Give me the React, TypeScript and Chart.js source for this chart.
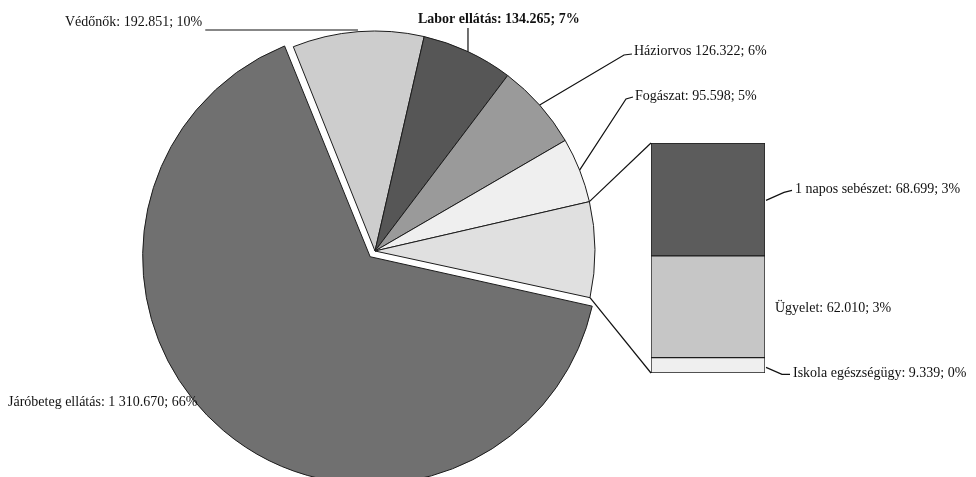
import React, { useEffect, useRef } from "react";
import { Chart, registerables } from "chart.js";

Chart.register(...registerables);

const W = 976;
const H = 477;

// ---- data ----
const barLabels = ["1 napos sebészet", "Ügyelet", "Iskola egészségügy"];
const barValues = [68699, 62010, 9339];
const otherTotal = barValues.reduce((a, b) => a + b, 0);

const pieLabels = ["Védőnők", "Labor ellátás", "Háziorvos", "Fogászat", "Egyéb", "Járóbeteg ellátás"];
const pieValues = [192851, 134265, 126322, 95598, otherTotal, 1310670];
const grandTotal = pieValues.reduce((a, b) => a + b, 0);

// ---- styles ----
const pieColors = ["#cdcdcd", "#565656", "#9a9a9a", "#efefef", "#e0e0e0", "#707070"];
const pieOffsets = [0, 0, 0, 0, 0, 30];
const barColors = ["#5c5c5c", "#c6c6c6", "#efefef"];
const FONT = "14px 'Liberation Serif', 'DejaVu Serif', serif";
const FONT_BOLD = "bold 14px 'Liberation Serif', 'DejaVu Serif', serif";

function fmt(n: number): string {
  const s = String(n);
  const last = s.slice(-3);
  const rest = s.slice(0, -3);
  if (!rest) return last;
  if (rest.length > 3) return rest.slice(0, -3) + " " + rest.slice(-3) + "." + last;
  return rest + "." + last;
}
function labelText(name: string, v: number, sep = ": "): string {
  return name + sep + fmt(v) + "; " + Math.round((v / grandTotal) * 100) + "%";
}

function arcPoint(arc: any, angle: number, extra = 0) {
  const off = (arc.options.offset || 0) / 4;
  const circ = arc.endAngle - arc.startAngle;
  const fix = 1 - Math.sin(Math.min(Math.PI, circ));
  const t = off + off * fix;
  const half = (arc.startAngle + arc.endAngle) / 2;
  const cx = arc.x + Math.cos(half) * t;
  const cy = arc.y + Math.sin(half) * t;
  const r = arc.outerRadius + extra;
  return { x: cx + Math.cos(angle) * r, y: cy + Math.sin(angle) * r };
}

export default function App() {
  const pieRef = useRef<HTMLCanvasElement>(null);
  const barRef = useRef<HTMLCanvasElement>(null);

  useEffect(() => {
    const line = (ctx: CanvasRenderingContext2D, pts: number[][]) => {
      ctx.beginPath();
      ctx.moveTo(pts[0][0], pts[0][1]);
      for (let i = 1; i < pts.length; i++) ctx.lineTo(pts[i][0], pts[i][1]);
      ctx.stroke();
    };

    const pieLabelPlugin = {
      id: "pieLabels",
      afterDraw(chart: any) {
        const ctx: CanvasRenderingContext2D = chart.ctx;
        const arcs = chart.getDatasetMeta(0).data as any[];
        const mid = (a: any) => (a.startAngle + a.endAngle) / 2;
        ctx.save();
        ctx.fillStyle = "#111";
        ctx.strokeStyle = "#111";
        ctx.lineWidth = 1.2;
        ctx.textBaseline = "middle";
        ctx.textAlign = "left";

        // Védőnők
        ctx.font = FONT;
        const t0 = labelText(pieLabels[0], pieValues[0]);
        ctx.fillText(t0, 65, 22);
        const w0 = ctx.measureText(t0).width;
        const p0 = arcPoint(arcs[0], mid(arcs[0]));
        line(ctx, [[65 + w0 + 3, 30], [p0.x, 30]]);

        // Labor
        ctx.font = FONT_BOLD;
        ctx.fillText(labelText(pieLabels[1], pieValues[1]), 418, 19);
        const p1 = arcPoint(arcs[1], mid(arcs[1]));
        line(ctx, [[p1.x, p1.y], [p1.x, 28]]);

        // Háziorvos
        ctx.font = FONT;
        ctx.fillText(labelText(pieLabels[2], pieValues[2], " "), 634, 51);
        const p2 = arcPoint(arcs[2], mid(arcs[2]));
        line(ctx, [[p2.x, p2.y], [624, 55], [632, 54]]);

        // Fogászat
        ctx.fillText(labelText(pieLabels[3], pieValues[3]), 635, 96);
        const p3 = arcPoint(arcs[3], mid(arcs[3]));
        line(ctx, [[p3.x, p3.y], [626, 99], [633, 97]]);

        // Járóbeteg
        ctx.fillText(labelText(pieLabels[5], pieValues[5]), 8, 402);
        ctx.restore();
      },
    };

    const pie = new Chart(pieRef.current!, {
      type: "pie",
      data: {
        labels: pieLabels,
        datasets: [
          {
            data: pieValues,
            backgroundColor: pieColors,
            borderColor: "#1c1c1c",
            borderWidth: 1,
            offset: pieOffsets,
          } as any,
        ],
      },
      options: {
        responsive: false,
        animation: false,
        rotation: -21.8,
        radius: 220,
        layout: { padding: { left: 0, right: 226, top: 25, bottom: 0 } },
        plugins: { legend: { display: false }, tooltip: { enabled: false } },
      } as any,
      plugins: [pieLabelPlugin],
    });

    const order = [2, 1, 0]; // bottom to top
    const barPlugin = {
      id: "barLabels",
      afterDraw(chart: any) {
        const ctx: CanvasRenderingContext2D = chart.ctx;
        const els = order.map((_, di) => chart.getDatasetMeta(di).data[0] as any);
        const topEl = els[els.length - 1];
        const botEl = els[0];
        const left = topEl.x - topEl.width / 2;
        const right = topEl.x + topEl.width / 2;
        const top = topEl.y;
        const bottom = botEl.base;
        const otherArc = pie.getDatasetMeta(0).data[4] as any;
        const pa = arcPoint(otherArc, otherArc.startAngle);
        const pb = arcPoint(otherArc, otherArc.endAngle);
        ctx.save();
        ctx.strokeStyle = "#111";
        ctx.fillStyle = "#111";
        ctx.lineWidth = 1.2;
        line(ctx, [[pa.x, pa.y], [left, top]]);
        line(ctx, [[pb.x, pb.y], [left, bottom]]);

        ctx.font = FONT;
        ctx.textBaseline = "middle";
        // 1 napos (top segment)
        const e0 = els[2];
        const m0 = (e0.y + e0.base) / 2;
        line(ctx, [[right + 1, m0 + 1], [784, m0 - 7], [792, m0 - 9]]);
        ctx.fillText(labelText(barLabels[0], barValues[0]), 795, m0 - 10);
        // Ügyelet
        const e1 = els[1];
        const m1 = (e1.y + e1.base) / 2;
        ctx.fillText(labelText(barLabels[1], barValues[1]), 775, m1 + 2);
        // Iskola
        const e2 = els[0];
        const m2 = (e2.y + e2.base) / 2;
        line(ctx, [[right + 1, m2 + 2], [782, m2 + 9], [790, m2 + 9]]);
        ctx.fillText(labelText(barLabels[2], barValues[2]), 793, m2 + 8);
        ctx.restore();
      },
    };

    const bar = new Chart(barRef.current!, {
      type: "bar",
      data: {
        labels: [""],
        datasets: order.map((i) => ({
          label: barLabels[i],
          data: [barValues[i]],
          backgroundColor: barColors[i],
          borderColor: "#1c1c1c",
          borderWidth: 1,
          borderSkipped: false,
          barPercentage: 1,
          categoryPercentage: 1,
        })),
      },
      options: {
        responsive: false,
        animation: false,
        layout: { padding: { left: 651, right: W - 765, top: 143, bottom: H - 373 } },
        scales: {
          x: { display: false, stacked: true },
          y: { display: false, stacked: true, min: 0, max: otherTotal },
        },
        plugins: { legend: { display: false }, tooltip: { enabled: false } },
      } as any,
      plugins: [barPlugin],
    });

    return () => {
      bar.destroy();
      pie.destroy();
    };
  }, []);

  return (
    <div style={{ position: "fixed", left: 0, top: 0, width: W, height: H, background: "#fff", overflow: "hidden" }}>
      <canvas ref={pieRef} width={W} height={H} style={{ position: "absolute", left: 0, top: 0 }} />
      <canvas ref={barRef} width={W} height={H} style={{ position: "absolute", left: 0, top: 0 }} />
    </div>
  );
}
